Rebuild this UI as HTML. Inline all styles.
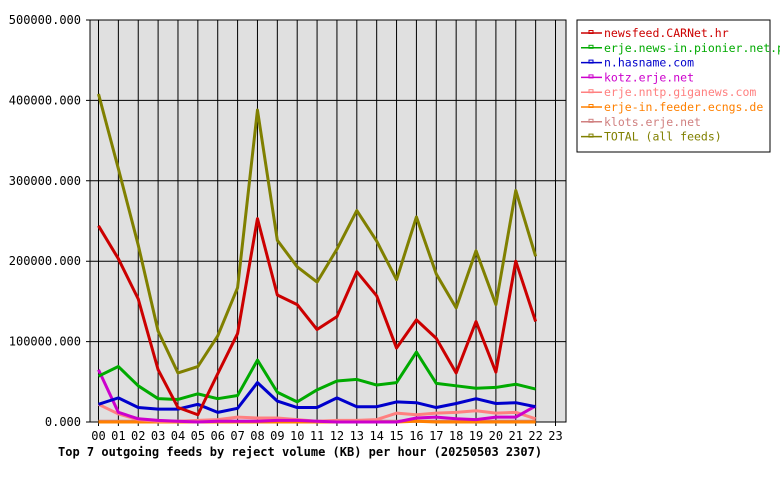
<!DOCTYPE html>
<html><head><meta charset="utf-8"><style>
body{margin:0;background:#fff;font-family:"DejaVu Sans Mono","Liberation Mono",monospace}
svg text{font-family:"DejaVu Sans Mono","Liberation Mono",monospace}
</style></head><body>
<svg id="c" width="780" height="480" xmlns="http://www.w3.org/2000/svg"></svg>
<script>
const hours=["00","01","02","03","04","05","06","07","08","09","10","11","12","13","14","15","16","17","18","19","20","21","22","23"];
const yTicks=[0,100000,200000,300000,400000,500000];
const seriesNames=["newsfeed.CARNet.hr","erje.news-in.pionier.net.pl","n.hasname.com","kotz.erje.net","erje.nntp.giganews.com","erje-in.feeder.ecngs.de","klots.erje.net","TOTAL (all feeds)"];
const seriesColors=["#cc0000","#00aa00","#0000cc","#cc00cc","#ff8080","#ff8000","#d08080","#808000"];
const sNewsfeed=[244,203,153,65,18,9,60,110,253,158,146,115,131,187,157,92,127,104,61,125,62,200,125];
const sPionier=[57,69,45,29,28,35,29,33,77,37,25,40,51,53,46,49,87,48,45,42,43,47,41];
const sHasname=[22,30,18,16,16,22,12,17,49,26,18,18,30,19,19,25,24,18,23,29,23,24,19];
const sKotz=[65,12,4,2,1,0,1,1,1,2,2,1,0,0,0,0,5,6,4,3,6,6,20];
const sGiganews=[22,10,3,1,1,2,3,6,5,5,3,1,2,2,3,11,9,11,12,14,11,12,4];
const sEcngs=[0,0,0,0,0,0,0,0,0,0,0,0,0,0,0,0,1,0,0,0,0,0,0];
const sKlots=[1,1,1,1,1,1,1,1,1,1,1,1,1,1,1,1,1,1,1,1,1,1,1];
const sTotal=[408,315,220,113,61,69,107,167,388,226,193,174,215,263,225,177,255,184,142,213,146,288,206];
const allSeries=[sNewsfeed,sPionier,sHasname,sKotz,sGiganews,sEcngs,sKlots,sTotal];
const svg=document.getElementById('c');const NS="http://www.w3.org/2000/svg";
function mk(t,a,p){const e=document.createElementNS(NS,t);for(const k in a)e.setAttribute(k,a[k]);(p||svg).appendChild(e);return e;}
const L=90,R=566,T=20,B=422;
const xS=i=>98.5+i*19.87;
const yS=v=>B-(v/500000)*(B-T);
let bg=mk('rect',{x:L,y:T,width:R-L,height:B-T,fill:'#e0e0e0',stroke:'#000'});

hours.forEach((h,i)=>{const x=xS(i);
 let g=mk('line',{x1:x,x2:x,y1:T,y2:B+4,stroke:'#000','stroke-width':1});
 
 let t=mk('text',{x:x,y:440,'font-size':12,'text-anchor':'middle'});t.textContent=h;
 });
yTicks.forEach(v=>{const y=yS(v);
 let g=mk('line',{x1:L-4,x2:R,y1:y,y2:y,stroke:'#000','stroke-width':1});
 
 let t=mk('text',{x:81,y:y+4,'font-size':12,'text-anchor':'end'});t.textContent=v+".000";
 });
for(let s=allSeries.length-1;s>=0;s--){
 const pts=allSeries[s].map((v,i)=>xS(i)+","+yS(v*1000)).join(" ");
 let p=mk('polyline',{points:pts,fill:'none',stroke:seriesColors[s],'stroke-width':3,'stroke-linejoin':'round'});
 }
let ti=mk('text',{x:58,y:456,'font-size':12,'font-weight':'bold'});ti.textContent="Top 7 outgoing feeds by reject volume (KB) per hour (20250503 2307)";

const lg=mk('g',{});
mk('rect',{x:577,y:20,width:193,height:132,fill:'#fff',stroke:'#000'},lg);
seriesNames.forEach((n,i)=>{const y=33+i*14.8;
 const e=mk('g',{},lg);
 mk('line',{x1:581,x2:602,y1:y,y2:y,stroke:seriesColors[i],'stroke-width':1.5},e);
 mk('rect',{x:589,y:y-2.5,width:4,height:3,fill:'none',stroke:seriesColors[i]},e);
 const t=mk('text',{x:604,y:y+4,'font-size':11.5,fill:seriesColors[i]},e);t.textContent=n;});
</script></body></html>
